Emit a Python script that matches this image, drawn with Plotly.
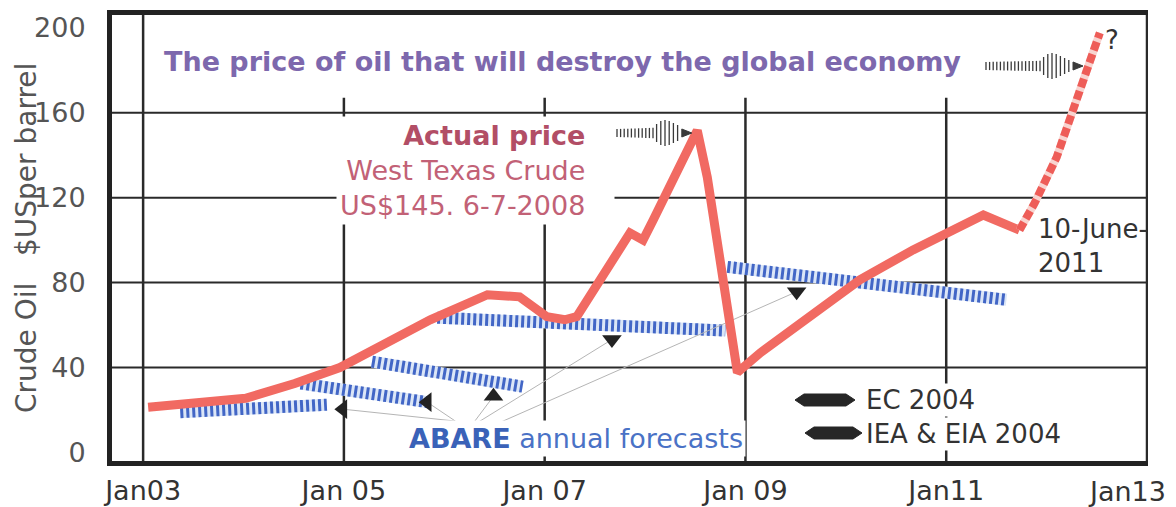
import plotly.graph_objects as go

# ---------------- data ----------------
# Actual West Texas Crude price (decimal year, US$ per barrel)
actual_x = [2003.05, 2004.02, 2004.51, 2004.96, 2005.86, 2006.09, 2006.43, 2006.75,
            2007.02, 2007.20, 2007.32, 2007.85, 2007.98, 2008.08, 2008.52, 2008.62,
            2008.75, 2008.92, 2009.15, 2009.47, 2009.81, 2010.14, 2010.67, 2011.37, 2011.73]
actual_y = [21.3, 25.5, 32.5, 40.0, 62.5, 67.0, 74.3, 73.3,
            64.0, 62.5, 64.0, 103.4, 100.0, 109.4, 151.6, 129.6,
            90.6, 37.7, 47.0, 57.8, 70.5, 81.3, 95.4, 111.8, 104.7]

# Projected path to the price that will destroy the economy
proj_x = [2011.73, 2011.88, 2012.10, 2012.26, 2012.43, 2012.53]
proj_y = [104.7, 117.4, 139.0, 161.0, 186.0, 197.6]

# ABARE annual forecasts (start / end of each hatched band)
abare_x0 = [2003.37, 2004.57, 2005.28, 2005.93, 2008.82]
abare_x1 = [2004.83, 2005.85, 2006.78, 2008.80, 2011.60]
abare_y0 = [19.0, 32.5, 42.8, 63.5, 87.4]
abare_y1 = [22.5, 23.6, 31.0, 57.4, 71.9]

# EC 2004 / IEA & EIA 2004 forecast arrows (tail -> head)
fc_tail_x = [2006.11, 2006.11, 2006.26, 2006.26, 2006.36]
fc_tail_y = [14.8, 14.8, 12.0, 12.0, 10.1]
fc_head_x = [2004.99, 2005.83, 2006.49, 2007.67, 2009.51]
fc_head_y = [20.4, 23.7, 26.5, 53.2, 75.7]
fc_head_dir = ["triangle-left", "triangle-left", "triangle-up", "triangle-down", "triangle-down"]

# Axis ticks (the last label sits at the right edge and is placed separately)
x_tickvals = [2003, 2005, 2007, 2009, 2011, 2013]
x_ticktext = ["Jan03", "Jan 05", "Jan 07", "Jan 09", "Jan11", ""]
last_tick_label = "Jan13"
y_tickvals = [0, 40, 80, 120, 160, 200]
h_grid = [40, 80, 120, 160]

# ---------------- layout helpers ----------------
W, H = 1176, 507
L, R, T, B = 112, 1148, 15, 461
XR = [2002.69, 2013.01]
YR = [-4, 206]
FONT = "DejaVu Sans"


def px(xpix):
    return (xpix - L) / (R - L)


def py(ypix):
    return (B - ypix) / (B - T)


fig = go.Figure()

# ABARE hatched bands
for i in range(len(abare_x0)):
    xs = [abare_x0[i], abare_x1[i]]
    ys = [abare_y0[i], abare_y1[i]]
    fig.add_trace(go.Scatter(x=xs, y=ys, mode="lines",
                             line=dict(color="#dbe6f7", width=12),
                             hoverinfo="skip", showlegend=False))
    fig.add_trace(go.Scatter(x=xs, y=ys, mode="lines",
                             line=dict(color="#4266c6", width=12, dash="3px,3px"),
                             hoverinfo="skip", showlegend=False))

# thin grey forecast lines with black arrow heads
for i in range(len(fc_head_x)):
    fig.add_trace(go.Scatter(x=[fc_tail_x[i], fc_head_x[i]], y=[fc_tail_y[i], fc_head_y[i]],
                             mode="lines", line=dict(color="#b5b5b5", width=1),
                             hoverinfo="skip", showlegend=False))
fig.add_trace(go.Scatter(x=fc_head_x, y=fc_head_y, mode="markers",
                         marker=dict(symbol=fc_head_dir, size=17, color="#222222"),
                         hoverinfo="skip", showlegend=False))

# actual price
fig.add_trace(go.Scatter(x=actual_x, y=actual_y, mode="lines",
                         line=dict(color="#f16a62", width=9),
                         name="Actual price", showlegend=False))
# projection (dashed)
fig.add_trace(go.Scatter(x=proj_x, y=proj_y, mode="lines",
                         line=dict(color="#f8d3cf", width=8),
                         hoverinfo="skip", showlegend=False))
fig.add_trace(go.Scatter(x=proj_x, y=proj_y, mode="lines",
                         line=dict(color="#ee5d58", width=8, dash="9px,4px"),
                         name="Projection", showlegend=False))

shapes = []
# horizontal grid lines
for v in h_grid:
    shapes.append(dict(type="line", xref="paper", yref="y", x0=0, x1=1, y0=v, y1=v,
                       line=dict(color="#2a2a2a", width=2), layer="below"))
# vertical grid lines
for v in x_tickvals:
    full = v in (2003, 2013)
    shapes.append(dict(type="line", xref="x", yref="y" if not full else "paper",
                       x0=v, x1=v, y0=YR[0] if not full else 0,
                       y1=167 if not full else 1,
                       line=dict(color="#2a2a2a", width=2.5), layer="below"))


# legend swatches (black pointed bars)
def bar_path(x0, x1, yc, hw=6, tip=9):
    pts = [(x0, yc), (x0 + tip, yc - hw), (x1 - tip, yc - hw), (x1, yc),
           (x1 - tip, yc + hw), (x0 + tip, yc + hw)]
    return "M " + " L ".join(f"{px(a):.5f},{py(b):.5f}" for a, b in pts) + " Z"


shapes.append(dict(type="path", xref="paper", yref="paper", path=bar_path(795, 855, 400),
                   fillcolor="#262626", line=dict(color="#262626", width=1)))
shapes.append(dict(type="path", xref="paper", yref="paper", path=bar_path(805, 862, 433),
                   fillcolor="#262626", line=dict(color="#262626", width=1)))


# decorative "sound-wave" arrows made of vertical strokes
def wave_arrow(x0, yc, n_small, n_big):
    out = []
    xx = x0
    for k in range(n_small):
        h = 4 + 1.2 * k / max(n_small - 1, 1)
        out.append((xx, h))
        xx += 3.6
    bigs = [9, 12, 13, 12, 10, 8, 6][:n_big]
    for h in bigs:
        out.append((xx, h))
        xx += 4.2
    for xv, h in out:
        shapes.append(dict(type="line", xref="paper", yref="paper",
                           x0=px(xv), x1=px(xv), y0=py(yc - h), y1=py(yc + h),
                           line=dict(color="#3a3a3a", width=1.3)))
    tip = [(xx, yc - 4), (xx + 10, yc), (xx, yc + 4)]
    shapes.append(dict(type="path", xref="paper", yref="paper",
                       path="M " + " L ".join(f"{px(a):.5f},{py(b):.5f}" for a, b in tip) + " Z",
                       fillcolor="#3a3a3a", line=dict(color="#3a3a3a", width=1)))


wave_arrow(986, 66, 16, 7)
wave_arrow(617, 133, 11, 6)

annotations = []
# last x tick label (kept inside the page, as in the original)
annotations.append(dict(xref="paper", yref="paper", x=px(1168), y=py(491), xanchor="right",
                        yanchor="middle", showarrow=False, text=last_tick_label,
                        font=dict(family=FONT, size=27, color="#333333")))
# headline
annotations.append(dict(xref="paper", yref="paper", x=px(162), y=py(62), xanchor="left",
                        yanchor="middle", showarrow=False,
                        text="<b>The price of oil that will destroy the global economy</b>",
                        font=dict(family=FONT, size=27, color="#7d68ad")))
# actual price block
nb = "\u00a0\u00a0\u00a0"
annotations.append(dict(xref="paper", yref="paper", x=px(615), y=py(170), xanchor="right",
                        yanchor="middle", showarrow=False, align="right",
                        bgcolor="white", borderpad=3,
                        text=("<b><span style='color:#b24e66'>Actual price</span></b>" + nb +
                              "<br>West Texas Crude" + nb + "<br>US$145. 6-7-2008" + nb),
                        font=dict(family=FONT, size=27, color="#c26176")))
annotations.append(dict(xref="paper", yref="paper", x=px(1112), y=py(40), xanchor="center",
                        yanchor="middle", showarrow=False, text="?",
                        font=dict(family=FONT, size=26, color="#333333")))
# 10-June-2011
annotations.append(dict(xref="paper", yref="paper", x=px(1036), y=py(246), xanchor="left",
                        yanchor="middle", showarrow=False, align="left",
                        text="10-June-<br>2011",
                        font=dict(family=FONT, size=26, color="#333333")))
# ABARE
annotations.append(dict(xref="paper", yref="paper", x=px(406), y=py(438), xanchor="left",
                        yanchor="middle", showarrow=False, bgcolor="white", borderpad=2,
                        text="<b><span style='color:#3a62b8'>ABARE</span></b> annual forecasts",
                        font=dict(family=FONT, size=27, color="#4a72c6")))
# legend labels
annotations.append(dict(xref="paper", yref="paper", x=px(864), y=py(400), xanchor="left",
                        yanchor="middle", showarrow=False, bgcolor="white", borderpad=1,
                        text="EC 2004", font=dict(family=FONT, size=26, color="#333333")))
annotations.append(dict(xref="paper", yref="paper", x=px(864), y=py(434), xanchor="left",
                        yanchor="middle", showarrow=False, bgcolor="white", borderpad=1,
                        text="IEA &amp; EIA 2004", font=dict(family=FONT, size=26, color="#333333")))
# y title
annotations.append(dict(xref="paper", yref="paper", x=px(26), y=py(238), xanchor="center",
                        yanchor="middle", showarrow=False, textangle=-90,
                        text="Crude Oil\u00a0\u00a0\u00a0$USper barrel",
                        font=dict(family=FONT, size=28, color="#555555")))

fig.update_layout(
    width=W, height=H,
    margin=dict(l=L, r=W - R, t=T, b=H - B, pad=0, autoexpand=False),
    paper_bgcolor="white", plot_bgcolor="white",
    showlegend=False,
    shapes=shapes, annotations=annotations,
    xaxis=dict(range=XR, tickvals=x_tickvals, ticktext=x_ticktext, showgrid=False,
               zeroline=False, showline=True, linewidth=5, linecolor="#222222", mirror=True,
               ticks="", ticklabelstandoff=2, automargin=False, ticklabeloverflow="allow",
               tickfont=dict(family=FONT, size=27, color="#333333")),
    yaxis=dict(range=YR, tickvals=y_tickvals, showgrid=False, zeroline=False,
               showline=True, linewidth=5, linecolor="#222222", mirror=False,
               ticks="", ticklabelstandoff=16, automargin=False, ticklabeloverflow="allow",
               tickfont=dict(family=FONT, size=27, color="#555555")),
)

fig.write_html("out.html", config={"displayModeBar": False},
               post_script="document.body.style.margin='0';document.body.style.overflow='hidden';")
